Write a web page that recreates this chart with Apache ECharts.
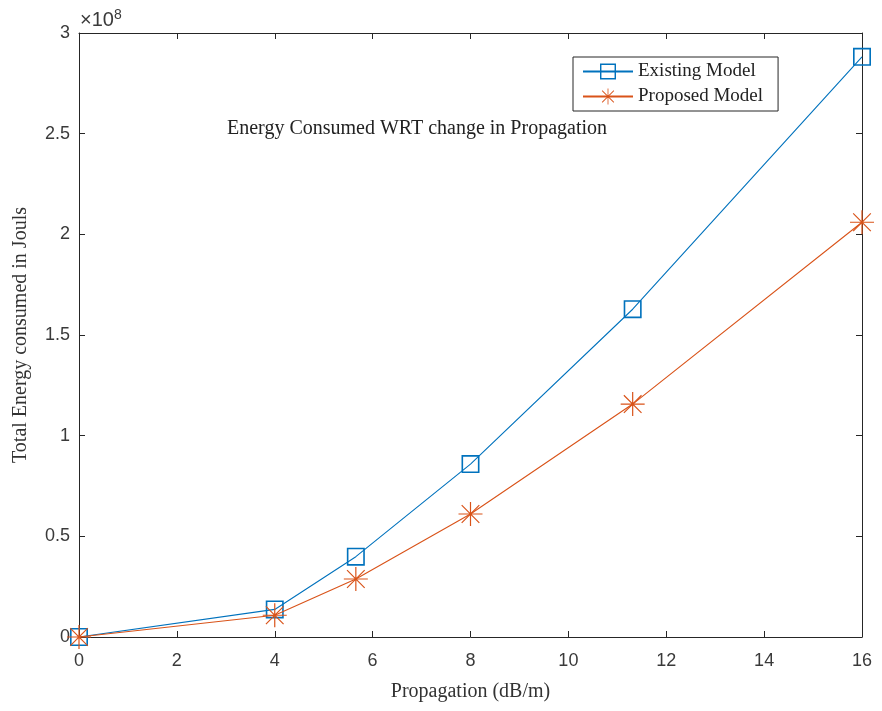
<!DOCTYPE html>
<html>
<head>
<meta charset="utf-8">
<script src="https://cdn.jsdelivr.net/npm/echarts@6/dist/echarts.min.js"></script>
<style>
html,body{margin:0;padding:0;background:#fff;}
#c{width:882px;height:711px;}
</style>
</head>
<body>
<div id="c"></div>
<script>
var xValues = [0, 4, 5.657, 8, 11.314, 16];
var existingModel = [0, 0.137, 0.399, 0.859, 1.628, 2.882];
var proposedModel = [0, 0.108, 0.288, 0.611, 1.157, 2.060];
var xTicks = [0, 2, 4, 6, 8, 10, 12, 14, 16];
var yTicks = [0, 0.5, 1, 1.5, 2, 2.5, 3];

var seriesNames = ['Existing Model', 'Proposed Model'];
var colors = ['#0072BD', '#D95319'];

function pairs(ys){ return xValues.map(function(x,i){ return [x, ys[i]]; }); }

var squarePath = 'path://M0 0 L100 0 L100 100 L0 100 Z M9 9 L9 91 L91 91 L91 9 Z';
var starPath = 'path://M0 47.5 L100 47.5 L100 52.5 L0 52.5 Z M47.5 0 L52.5 0 L52.5 100 L47.5 100 Z M15 11.5 L88.5 85 L85 88.5 L11.5 15 Z M85 11.5 L88.5 15 L15 88.5 L11.5 85 Z';

var axisColor = '#262626';
var labelColor = '#3a3a3a';
var chart = echarts.init(document.getElementById('c'), null, {renderer:'canvas'});
var grid = {left:79, top:33, width:783, height:604, containLabel:false, outerBoundsMode:'none'};

function ylabel(v){ return String(v); }

chart.setOption({
  backgroundColor:'#fff',
  animation:false,
  grid:grid,
  legend:{
    orient:'vertical',
    left:573, top:57,
    itemWidth:50, itemHeight:20, itemGap:6,
    padding:[5,15,5,9],
    borderColor:axisColor, borderWidth:1,
    backgroundColor:'#fff',
    textStyle:{fontFamily:'Liberation Serif', fontSize:19, color:'#222'},
    data:seriesNames
  },
  graphic:[
    {type:'text', left:227, top:119, style:{text:'Energy Consumed WRT change in Propagation', font:'20px "Liberation Serif"', fill:'#222'}},
    {type:'text', left:80, top:8, style:{
      rich:{a:{font:'20px "Liberation Sans"', fill:labelColor}, b:{font:'14px "Liberation Sans"', fill:labelColor, verticalAlign:'top', padding:[0,0,10,0]}},
      text:'{a|\u00d710}{b|8}'
    }}
  ],
  xAxis:[{
    type:'value', min:0, max:16, interval:2,
    name:'Propagation (dB/m)', nameLocation:'middle', nameGap:45,
    nameTextStyle:{fontFamily:'Liberation Serif', fontSize:20, color:'#333'},
    axisLine:{show:true, onZero:false, lineStyle:{color:axisColor, width:1}},
    axisTick:{show:true, inside:true, length:6, lineStyle:{color:axisColor}},
    axisLabel:{fontFamily:'Liberation Sans', fontSize:18, color:labelColor, margin:15},
    splitLine:{show:false}
  },{
    type:'value', min:0, max:16, interval:2, position:'top',
    axisLine:{show:true, onZero:false, lineStyle:{color:axisColor, width:1}},
    axisTick:{show:true, inside:true, length:6, lineStyle:{color:axisColor}},
    axisLabel:{show:false}, splitLine:{show:false}
  }],
  yAxis:[{
    type:'value', min:0, max:3, interval:0.5,
    name:'Total Energy consumed in Jouls', nameLocation:'middle', nameGap:48,
    nameTextStyle:{fontFamily:'Liberation Serif', fontSize:20, color:'#333'},
    axisLine:{show:true, onZero:false, lineStyle:{color:axisColor, width:1}},
    axisTick:{show:true, inside:true, length:6, lineStyle:{color:axisColor}},
    axisLabel:{fontFamily:'Liberation Sans', fontSize:18, color:labelColor, margin:9, formatter:ylabel},
    splitLine:{show:false}
  },{
    type:'value', min:0, max:3, interval:0.5, position:'right',
    axisLine:{show:true, onZero:false, lineStyle:{color:axisColor, width:1}},
    axisTick:{show:true, inside:true, length:6, lineStyle:{color:axisColor}},
    axisLabel:{show:false}, splitLine:{show:false}
  }],
  series:[{
    name:seriesNames[0], type:'line', data:pairs(existingModel),
    xAxisIndex:0, yAxisIndex:0,
    symbol:squarePath, symbolSize:18, showAllSymbol:true,
    lineStyle:{color:colors[0], width:1.1},
    itemStyle:{color:colors[0]},
    emphasis:{disabled:true}, z:2
  },{
    name:seriesNames[1], type:'line', data:pairs(proposedModel),
    xAxisIndex:0, yAxisIndex:0,
    symbol:starPath, symbolSize:24, showAllSymbol:true,
    lineStyle:{color:colors[1], width:1.1},
    itemStyle:{color:colors[1]},
    emphasis:{disabled:true}, z:3
  }]
});
</script>
</body>
</html>
